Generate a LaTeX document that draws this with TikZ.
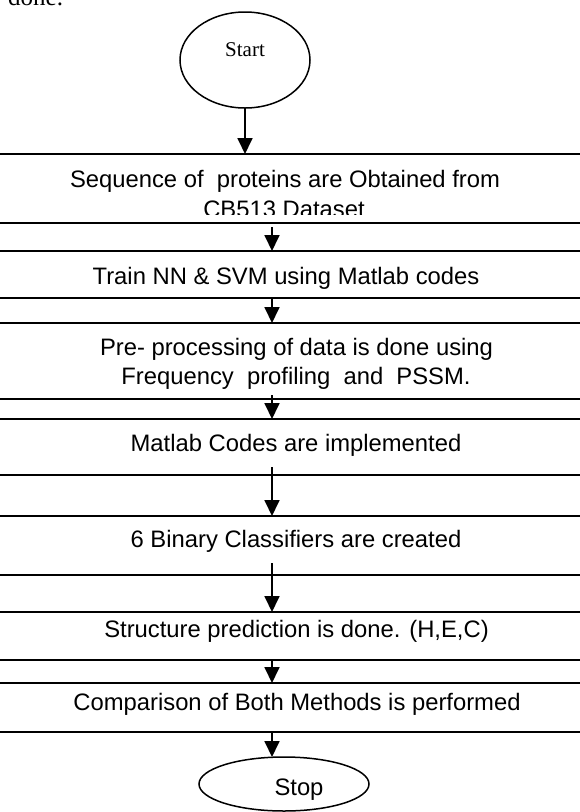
\documentclass[tikz,border=0pt]{standalone}
\usepackage{fontspec}
\setmainfont{Liberation Serif}
\newfontfamily\arialfont{Liberation Sans}
\usetikzlibrary{arrows.meta,shapes.geometric}
\begin{document}
\begin{tikzpicture}[x=1pt,y=-1pt,
  box/.style={draw, line width=1.6pt, minimum width=640pt, inner sep=0pt, outer sep=0pt},
  oval/.style={draw, ellipse, line width=1.5pt, inner sep=0pt, outer sep=0pt},
  lbl/.style={anchor=base, inner sep=0pt, font=\arialfont\fontsize{23.8}{29}\selectfont},
  arr/.style={line width=1.8pt, -{Triangle[width=15pt,length=16pt]}}]
\useasboundingbox (0,0) rectangle (580,812);
\clip (0,0) rectangle (580,812);

% tail of the preceding paragraph
\node[anchor=base west, inner sep=0pt, font=\fontsize{25}{30}\selectfont] (prev) at (8,5) {done.};

% terminals
\node[oval, minimum width=130pt, minimum height=96pt] (start) at (245,60) {};
\node[anchor=base, inner sep=0pt, font=\fontsize{21}{25}\selectfont] (startlbl) at (245,56) {Start};
\node[oval, minimum width=170pt, minimum height=54pt] (stop) at (284,784) {};
\node[lbl] (stoplbl) at (299,795) {Stop};

% process steps
\node[box, minimum height=69pt] (b1) at (290,188.5) {};
\node[box, minimum height=47pt] (b2) at (290,274.5) {};
\node[box, minimum height=76pt] (b3) at (290,361) {};
\node[box, minimum height=56pt] (b4) at (290,447) {};
\node[box, minimum height=59pt] (b5) at (290,545.5) {};
\node[box, minimum height=48pt] (b6) at (290,636) {};
\node[box, minimum height=49pt] (b7) at (290,707.5) {};

% step texts
\node[lbl] (t1a) at (285,187) {Sequence of~ proteins are Obtained from};
\begin{scope}
  \clip (0,150) rectangle (580,214);
  \node[lbl] (t1b) at (284,217) {CB513 Dataset};
\end{scope}
\node[lbl] (t2) at (286,284) {Train NN \& SVM using Matlab codes};
\node[lbl] (t3a) at (296.5,355) {Pre- processing of data is done using};
\node[lbl] (t3b) at (296,384) {Frequency~ profiling~ and~ PSSM.};
\node[lbl] (t4) at (296,451) {Matlab Codes are implemented};
\node[lbl] (t5) at (296,547) {6 Binary Classifiers are created};
\node[lbl] (t6) at (296.5,637) {Structure prediction is done. (H,E,C)};
\node[lbl] (t7) at (297,710) {Comparison of Both Methods is performed};

% flow arrows
\coordinate (ax) at (272,0);
\draw[arr] (start.south) -- (start.south |- b1.north);
\draw[arr] ([yshift=-4pt]b1.south -| ax) -- (b2.north -| ax);
\draw[arr] (b2.south -| ax) -- (b3.north -| ax);
\draw[arr] ([yshift=4pt]b3.south -| ax) -- (b4.north -| ax);
\draw[arr] ([yshift=8pt]b4.south -| ax) -- (b5.north -| ax);
\draw[arr] ([yshift=12pt]b5.south -| ax) -- (b6.north -| ax);
\draw[arr] (b6.south -| ax) -- (b7.north -| ax);
\draw[arr] (b7.south -| ax) -- (ax |- stop.north);
\end{tikzpicture}
\end{document}
